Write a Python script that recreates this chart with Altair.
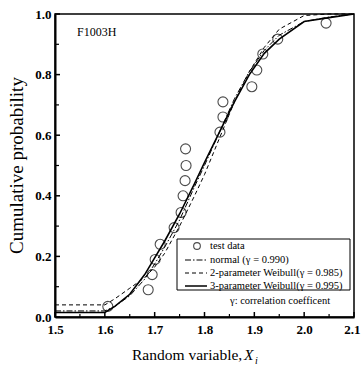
import altair as alt
import pandas as pd

# ---- data ----
test_x = [1.606, 1.687, 1.695, 1.701, 1.711, 1.739, 1.753, 1.757, 1.761, 1.763, 1.762,
          1.831, 1.837, 1.837, 1.895, 1.905, 1.917, 1.947, 2.044]
test_y = [0.035, 0.09, 0.14, 0.19, 0.24, 0.295, 0.345, 0.40, 0.45, 0.50, 0.555,
          0.61, 0.66, 0.71, 0.76, 0.815, 0.868, 0.917, 0.97]

curve_x = [1.5, 1.6, 1.62, 1.65, 1.68, 1.70, 1.72, 1.75, 1.78, 1.80, 1.83, 1.86, 1.89, 1.92, 1.95, 2.0, 2.05, 2.1]
weib3_y = [0.015, 0.015, 0.035, 0.075, 0.14, 0.195, 0.25, 0.34, 0.44, 0.51, 0.61, 0.71, 0.80, 0.87, 0.917, 0.975, 0.988, 1.0]
weib2_y = [0.04, 0.04, 0.06, 0.095, 0.13, 0.165, 0.21, 0.30, 0.40, 0.47, 0.59, 0.71, 0.81, 0.89, 0.95, 0.995, 1.0, 1.0]
norm_y = [0.02, 0.02, 0.035, 0.07, 0.125, 0.175, 0.23, 0.32, 0.43, 0.50, 0.61, 0.72, 0.81, 0.88, 0.93, 0.975, 0.99, 1.0]

x_ticks = [1.5, 1.6, 1.7, 1.8, 1.9, 2.0, 2.1]
x_minor = [1.55, 1.65, 1.75, 1.85, 1.95, 2.05]
y_ticks = [0.0, 0.2, 0.4, 0.6, 0.8, 1.0]
y_minor = [0.1, 0.3, 0.5, 0.7, 0.9]

legend_labels = ["test data", "normal (γ = 0.990)", "2-parameter Weibull(γ = 0.985)",
                 "3-parameter Weibull(γ = 0.995)"]

SERIF = "Liberation Serif"
W, H = 299, 303

xs = alt.Scale(domain=[1.5, 2.1], nice=False, zero=False)
ys = alt.Scale(domain=[0, 1], nice=False, zero=False)

xaxis = alt.Axis(values=x_ticks, format=".1f", ticks=False, grid=False, labelFont=SERIF,
                 labelFontSize=13, labelFontWeight="bold", labelColor="black", labelPadding=6,
                 domainColor="black", domainWidth=2, labelFlush=False, labelBound=False,
                 labelOverlap=False, title=None,
                 labelAlign={"condition": {"test": "datum.value > 2.05", "value": "right"},
                             "value": "center"},
                 labelOffset={"condition": {"test": "datum.value > 2.05", "value": 6},
                              "value": 0})
yaxis = alt.Axis(values=y_ticks, format=".1f", ticks=False, grid=False, labelFont=SERIF,
                 labelFontSize=13, labelFontWeight="bold", labelColor="black", labelPadding=4,
                 domainColor="black", domainWidth=2, labelFlush=False, labelBound=False,
                 labelOverlap=False, title="Cumulative probability", titleFont=SERIF,
                 titleFontSize=19, titleFontWeight="normal", titleColor="black",
                 titleX=-39, titleY=151, titleAlign="center", titleBaseline="middle", titleAngle=-90)

pts_df = pd.DataFrame({"x": test_x, "y": test_y})
curves_df = pd.DataFrame({"x": curve_x, "w3": weib3_y, "w2": weib2_y, "n": norm_y})

base_pts = alt.Chart(pts_df).mark_point(shape="circle", size=100, filled=False, color="black",
                                        strokeWidth=1.1).encode(
    x=alt.X("x:Q", scale=xs, axis=xaxis), y=alt.Y("y:Q", scale=ys, axis=yaxis))

line_base = alt.Chart(curves_df)
l3 = line_base.mark_line(color="black", strokeWidth=1.6).encode(
    x=alt.X("x:Q", scale=xs), y=alt.Y("w3:Q", scale=ys))
l2 = line_base.mark_line(color="black", strokeWidth=1, strokeDash=[4, 3]).encode(
    x=alt.X("x:Q", scale=xs), y=alt.Y("w2:Q", scale=ys))
ln = line_base.mark_line(color="black", strokeWidth=1, strokeDash=[6, 2, 1.5, 2]).encode(
    x=alt.X("x:Q", scale=xs), y=alt.Y("n:Q", scale=ys))

# inward ticks
xt = alt.Chart(pd.DataFrame({"v": x_ticks})).mark_rule(color="black", strokeWidth=1.5).encode(
    x=alt.X("v:Q", scale=xs), y=alt.value(H), y2=alt.value(H - 5))
xm = alt.Chart(pd.DataFrame({"v": x_minor})).mark_rule(color="black", strokeWidth=1.2).encode(
    x=alt.X("v:Q", scale=xs), y=alt.value(H), y2=alt.value(H - 3))
yt = alt.Chart(pd.DataFrame({"v": y_ticks})).mark_rule(color="black", strokeWidth=1.5).encode(
    y=alt.Y("v:Q", scale=ys), x=alt.value(0), x2=alt.value(5))
ym = alt.Chart(pd.DataFrame({"v": y_minor})).mark_rule(color="black", strokeWidth=1.2).encode(
    y=alt.Y("v:Q", scale=ys), x=alt.value(0), x2=alt.value(4))

# label inside plot
tag = alt.Chart(pd.DataFrame({"t": ["F1003H"]})).mark_text(
    font=SERIF, fontSize=12, align="left", baseline="middle", color="black").encode(
    text="t:N", x=alt.value(22), y=alt.value(18))

# legend box
lx0, ly0, lx1, ly1 = 122, 225, 295, 276
box = alt.Chart(pd.DataFrame({"a": [0]})).mark_rect(fill="white", stroke="black", strokeWidth=1).encode(
    x=alt.value(lx0), x2=alt.value(lx1), y=alt.value(ly0), y2=alt.value(ly1))
rows_y = [232, 246, 259, 272]
leg_pt = alt.Chart(pd.DataFrame({"a": [0]})).mark_point(shape="circle", size=45, filled=False,
                                                         color="black", strokeWidth=1.1).encode(
    x=alt.value(142), y=alt.value(rows_y[0]))
leg_n = alt.Chart(pd.DataFrame({"a": [0]})).mark_rule(color="black", strokeWidth=1,
                                                      strokeDash=[6, 2, 1.5, 2]).encode(
    x=alt.value(130), x2=alt.value(152), y=alt.value(rows_y[1]))
leg_2 = alt.Chart(pd.DataFrame({"a": [0]})).mark_rule(color="black", strokeWidth=1,
                                                      strokeDash=[4, 3]).encode(
    x=alt.value(130), x2=alt.value(152), y=alt.value(rows_y[2]))
leg_3 = alt.Chart(pd.DataFrame({"a": [0]})).mark_rule(color="black", strokeWidth=1.5).encode(
    x=alt.value(130), x2=alt.value(152), y=alt.value(rows_y[3]))
leg_txt = [alt.Chart(pd.DataFrame({"t": [lab]})).mark_text(
    font=SERIF, fontSize=10.5, align="left", baseline="middle", color="black").encode(
    text="t:N", x=alt.value(155), y=alt.value(yy)) for lab, yy in zip(legend_labels, rows_y)]
corr = alt.Chart(pd.DataFrame({"t": ["γ: correlation coefficent"]})).mark_text(
    font=SERIF, fontSize=10.5, align="left", baseline="middle", color="black").encode(
    text="t:N", x=alt.value(175), y=alt.value(287))

# x title with italic X and subscript i
xt1 = alt.Chart(pd.DataFrame({"t": ["Random variable,"]})).mark_text(
    font=SERIF, fontSize=15.5, align="left", baseline="alphabetic", color="black").encode(
    text="t:N", x=alt.value(77), y=alt.value(346))
xt2 = alt.Chart(pd.DataFrame({"t": ["X"]})).mark_text(
    font=SERIF, fontSize=15.5, fontStyle="italic", align="left", baseline="alphabetic",
    color="black").encode(text="t:N", x=alt.value(189), y=alt.value(346))
xt3 = alt.Chart(pd.DataFrame({"t": ["i"]})).mark_text(
    font=SERIF, fontSize=10, fontStyle="italic", align="left", baseline="alphabetic",
    color="black").encode(text="t:N", x=alt.value(200), y=alt.value(350))

chart = alt.layer(
    base_pts, ln, l2, l3, xt, xm, yt, ym, tag, box, leg_pt, leg_n, leg_2, leg_3, *leg_txt, corr,
    xt1, xt2, xt3
).properties(
    width=W, height=H,
    autosize=alt.AutoSizeParams(type="none"),
    padding={"left": 55, "top": 14, "right": 7, "bottom": 54},
    background="white",
).configure_view(stroke="black", strokeWidth=1.5)

chart.save("out.html", embed_options={"renderer": "svg", "actions": False})
